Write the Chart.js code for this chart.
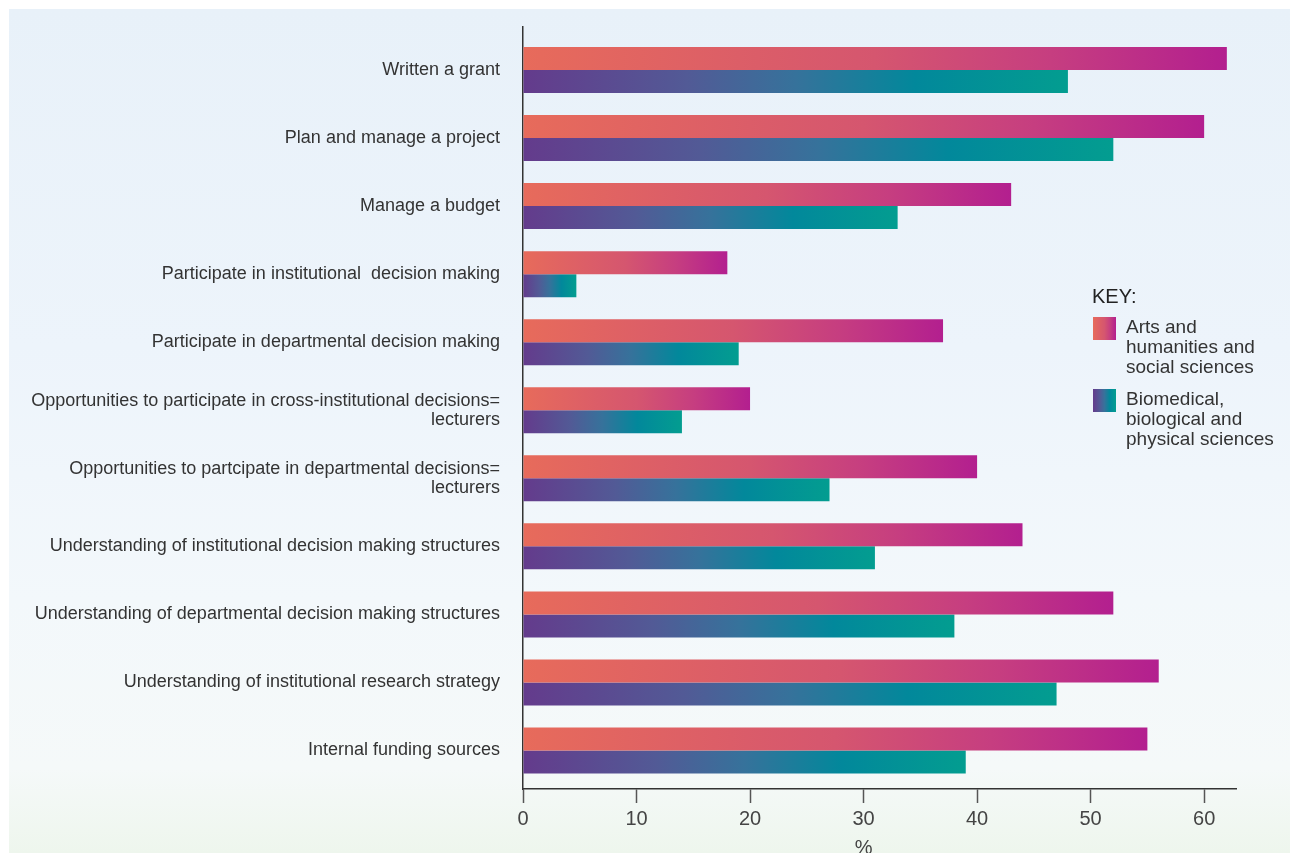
<!DOCTYPE html>
<html>
<head>
<meta charset="utf-8">
<script src="https://cdn.jsdelivr.net/npm/chart.js@4.4.1/dist/chart.umd.min.js"></script>
<style>
  html, body { margin: 0; padding: 0; background: #ffffff; }
  #panel {
    position: absolute; left: 9px; top: 9px; right: 0; bottom: 0;
    background: linear-gradient(to bottom, #e8f1f9 0%, #edf4fb 40%, #f3f8fb 70%, #f5f9f9 90%, #eef6ed 100%);
  }
  #wrap { position: absolute; left: 0; top: 0; width: 1290px; height: 853px; }
</style>
</head>
<body>
<div id="panel"></div>
<div id="wrap"><canvas id="chart" width="1290" height="853"></canvas></div>
<script>
// Skills reported, % of respondents, by discipline group
const categories = [
  ['Written a grant'],
  ['Plan and manage a project'],
  ['Manage a budget'],
  ['Participate in institutional  decision making'],
  ['Participate in departmental decision making'],
  ['Opportunities to participate in cross-institutional decisions=', 'lecturers'],
  ['Opportunities to partcipate in departmental decisions=', 'lecturers'],
  ['Understanding of institutional decision making structures'],
  ['Understanding of departmental decision making structures'],
  ['Understanding of institutional research strategy'],
  ['Internal funding sources']
];
const artsValues = [62, 60, 43, 18, 37, 20, 40, 44, 52, 56, 55];
const bioValues = [48, 52, 33, 4.7, 19, 14, 27, 31, 38, 47, 39];
const xTicks = [0, 10, 20, 30, 40, 50, 60];
const seriesNames = ['Arts and humanities and social sciences', 'Biomedical, biological and physical sciences'];
const legendLines = [
  ['Arts and', 'humanities and', 'social sciences'],
  ['Biomedical,', 'biological and', 'physical sciences']
];
const axisTitle = '%';
const keyTitle = 'KEY:';

const pinkStops = [[0, '#e76b5b'], [0.5, '#d5566f'], [0.75, '#c63e80'], [1, '#b31f8f']];
const tealStops = [[0, '#643b8c'], [0.3, '#525a96'], [0.5, '#36729b'], [0.72, '#02889b'], [1, '#039d90']];

function makeGradient(ctx, x0, x1, stops) {
  const g = ctx.createLinearGradient(x0, 0, x1, 0);
  stops.forEach(s => g.addColorStop(s[0], s[1]));
  return g;
}

function barFill(stops, fallback) {
  return function (context) {
    const chart = context.chart;
    if (!chart.chartArea || !chart.scales.x || context.type !== 'data') return fallback;
    const xs = chart.scales.x;
    const x0 = xs.getPixelForValue(0);
    const x1 = xs.getPixelForValue(context.raw.x);
    if (!isFinite(x0) || !isFinite(x1) || x1 - x0 < 1) return fallback;
    return makeGradient(chart.ctx, x0, x1, stops);
  };
}

const TEXT = '#333333';
const LABEL_FONT = "'Liberation Sans', Arial, Helvetica, sans-serif";
const NARROW_FONT = "'Liberation Sans Narrow', 'Arial Narrow', 'Liberation Sans', sans-serif";

const keyPlugin = {
  id: 'keyAndTitle',
  afterDraw(chart) {
    const ctx = chart.ctx;
    const xs = chart.scales.x;
    ctx.save();
    // axis title under the tick labels
    ctx.fillStyle = '#444';
    ctx.font = "20px " + NARROW_FONT;
    ctx.textAlign = 'center';
    ctx.textBaseline = 'middle';
    ctx.fillText(axisTitle, xs.getPixelForValue(30), 848);

    // key
    ctx.textAlign = 'left';
    ctx.fillStyle = '#222';
    ctx.font = "20px " + LABEL_FONT;
    ctx.fillText(keyTitle, 1092, 297);
    const swatchTops = [317, 389];
    const stopsList = [pinkStops, tealStops];
    ctx.font = "19px " + LABEL_FONT;
    for (let i = 0; i < 2; i++) {
      const y = swatchTops[i];
      ctx.fillStyle = makeGradient(ctx, 1093, 1116, stopsList[i]);
      ctx.fillRect(1093, y, 23, 23);
      ctx.fillStyle = TEXT;
      legendLines[i].forEach((line, j) => {
        ctx.fillText(line, 1126, y + 11 + j * 20);
      });
    }
    ctx.restore();
  }
};

new Chart(document.getElementById('chart'), {
  type: 'bar',
  data: {
    datasets: [
      {
        label: seriesNames[0],
        data: artsValues.map((v, i) => ({ x: v, y: i })),
        backgroundColor: barFill(pinkStops, '#d5566f'),
        borderWidth: 0,
        categoryPercentage: 0.676,
        barPercentage: 1.0
      },
      {
        label: seriesNames[1],
        data: bioValues.map((v, i) => ({ x: v, y: i })),
        backgroundColor: barFill(tealStops, '#36729b'),
        borderWidth: 0,
        categoryPercentage: 0.676,
        barPercentage: 1.0
      }
    ]
  },
  options: {
    indexAxis: 'y',
    responsive: false,
    animation: false,
    layout: { padding: { top: 27, right: 53.5, bottom: 0, left: 0 } },
    plugins: {
      legend: { display: false },
      tooltip: { enabled: false }
    },
    scales: {
      y: {
        type: 'linear',
        reverse: true,
        offset: false,
        grace: 0,
        min: -0.632,
        max: 10.566,
        afterBuildTicks(scale) {
          scale.ticks = categories.map((_, i) => ({ value: i }));
        },
        afterFit(scale) {
          scale.width = 523;
          scale.paddingTop = 0;
          scale.paddingBottom = 0;
        },
        grid: { display: false, drawTicks: false },
        border: { display: true, color: '#333', width: 1.5 },
        ticks: {
          padding: 23,
          color: TEXT,
          font: { family: LABEL_FONT, size: 18, lineHeight: 1.07 },
          callback: (value) => {
            const c = categories[Math.round(value)];
            return c ? (c.length > 1 ? c : c[0]) : '';
          }
        }
      },
      x: {
        type: 'linear',
        min: 0,
        max: 62.85,
        afterBuildTicks(scale) {
          scale.ticks = xTicks.map(v => ({ value: v }));
        },
        afterFit(scale) {
          scale.height = 64;
          scale.paddingLeft = 0;
          scale.paddingRight = 0;
        },
        grid: {
          display: true,
          drawOnChartArea: false,
          drawTicks: true,
          tickLength: 14,
          tickColor: '#555',
          tickWidth: 1.5
        },
        border: { display: true, color: '#333', width: 1.5 },
        ticks: {
          padding: 4,
          color: '#444',
          font: { family: NARROW_FONT, size: 20 },
          maxRotation: 0
        }
      }
    }
  },
  plugins: [keyPlugin]
});
</script>
</body>
</html>
